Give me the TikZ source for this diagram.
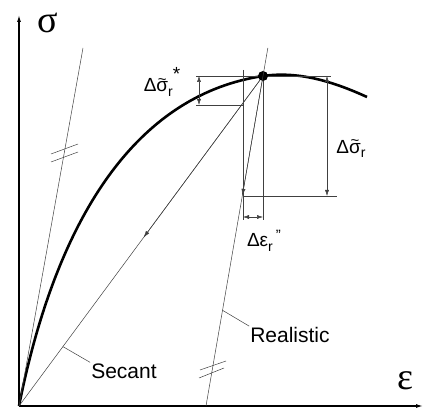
\documentclass[tikz,border=0pt]{standalone}
\usepackage{fontspec}
\setmainfont{Liberation Sans}
\newfontfamily\axisfont{Liberation Serif}
\usetikzlibrary{arrows.meta,calc}

\newcommand{\rsub}{\raisebox{-0.45ex}{\fontsize{14}{14}\selectfont r}}
\newcommand{\sigt}{\ooalign{σ\cr\hfil\raisebox{7.5pt}{\fontsize{15}{15}\selectfont\textasciitilde}\hfil\cr}}

\begin{document}
\begin{tikzpicture}[x=1pt,y=1pt,
  axis/.style={line width=1.2pt, -{Latex[length=7pt,width=4pt]}},
  thinline/.style={line width=0.5pt, draw=black!75},
  dim/.style={thinline, {Latex[length=6pt,width=4pt]}-{Latex[length=6pt,width=4pt]}},
  midarrow/.style={thinline, -{Latex[length=7pt,width=4pt]}},
  lbl/.style={font=\fontsize{21}{21}\selectfont, inner sep=1pt},
  glbl/.style={font=\fontsize{19}{19}\selectfont, inner sep=1pt},
  peak/.style={circle, fill, inner sep=0pt, minimum size=10pt}]
 \useasboundingbox (0,0) rectangle (424,408);

 % axes
 \coordinate (O) at (19,2);
 \coordinate (ytip) at (19,393);
 \coordinate (xtip) at (423,2);
 \draw[axis] (O) -- (ytip);
 \draw[axis] (O) -- (xtip);
 \node[font=\axisfont\fontsize{38}{38}\selectfont, inner sep=0pt] (sig) at (48,385) {σ};
 \node[font=\axisfont\fontsize{38}{38}\selectfont, inner sep=0pt] (eps) at (405,27) {ε};

 % stress-strain curve
 \node[peak] (P) at (263,332) {};
 \coordinate (E) at (367,311);
 \draw[line width=2.6pt] (O) .. controls (59,202) and (143,314) .. (P.center)
   .. controls (298,337) and (332,327) .. (E);

 % tangent, secant, realistic
 \coordinate (T1) at (83,360);
 \coordinate (R0) at (206,2);
 \coordinate (R1) at ($(R0)!1.085!(P)$);
 \path[thinline] (O) edge (T1);
 \path[thinline] (O) edge (P);
 \path[thinline] (R0) edge (R1);
 \draw[midarrow] (P) -- ($(O)!0.51!(P)$);
 \draw[midarrow] (P) -- ($(R0)!0.637!(P)$);

 % parallel marks
 \draw[thinline] (51,246) -- (78,256) (51,254) -- (78,264);
 \draw[thinline] (199,30) -- (224,40) (200,38) -- (226,47);

 % construction lines
 \coordinate (A1) at (196,332);
 \coordinate (A2) at (196,303);
 \coordinate (B0) at (243,303);
 \coordinate (B1) at (243,338);
 \coordinate (B2) at (243,188);
 \coordinate (C2) at (263,188);
 \coordinate (D1) at (331,332);
 \coordinate (D0) at (243,212);
 \coordinate (D2) at (337,212);
 \path[thinline] (A1) edge (P);
 \path[thinline] (A2) edge (B0);
 \path[thinline] (B1) edge (B2);
 \path[thinline] (P) edge (C2);
 \path[thinline] (P) edge (D1);
 \path[thinline] (D0) edge (D2);

 % dimension arrows
 \coordinate (s1) at (199,303);
 \coordinate (s2) at (199,332);
 \coordinate (r1) at (327,212);
 \coordinate (r2) at (327,332);
 \coordinate (e1) at (243,191);
 \coordinate (e2) at (263,191);
 \draw[dim] (s1) -- (s2);
 \draw[dim] (r1) -- (r2);
 \draw[dim] (e1) -- (e2);

 % labels
 \node[glbl] (dsigstar) at (162,326) {Δ\sigt\rsub\raisebox{1.1ex}{*}};
 \node[glbl] (dsig) at (351,259) {Δ\sigt\rsub};
 \node[glbl] (deps) at (264,167) {Δε\rsub\,\raisebox{0.6ex}{\fontsize{15}{15}\selectfont\char34}};
 \node[lbl] (secant) at (124,37) {Secant};
 \node[lbl] (real) at (290,73) {Realistic};
 \coordinate (sl) at ($(O)!0.18!(P)$);
 \coordinate (rl) at ($(R0)!0.29!(P)$);
 \draw[thinline] (sl) -- (secant.north west);
 \draw[thinline] (rl) -- (real.north west);
\end{tikzpicture}
\end{document}
